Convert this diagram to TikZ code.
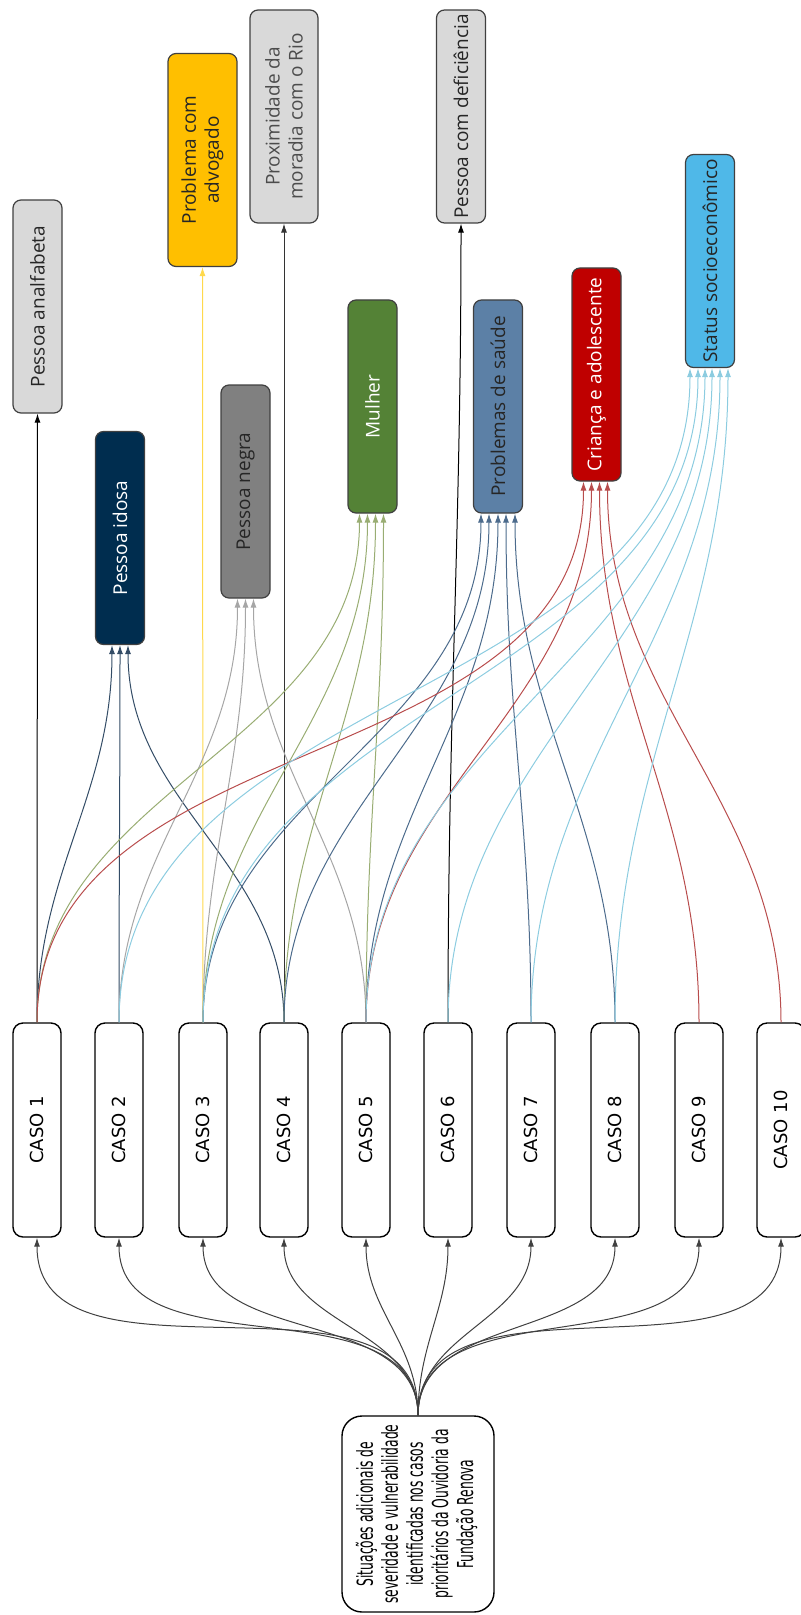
\documentclass[tikz,border=0pt]{standalone}
\usepackage{fontspec}
\setmainfont{Open Sans}
\newfontfamily\casofont{DejaVu Sans}
\usepackage{graphicx}
\usetikzlibrary{arrows.meta,calc}
\definecolor{BoxLine}{rgb}{0.25,0.25,0.25}
\definecolor{GrayClr}{rgb}{0.85,0.85,0.85}
\definecolor{IdosaClr}{rgb}{0,0.176,0.31}
\definecolor{AdvClr}{rgb}{1,0.75,0}
\definecolor{NegraClr}{rgb}{0.5,0.5,0.5}
\definecolor{MulherClr}{rgb}{0.33,0.51,0.21}
\definecolor{SaudeClr}{rgb}{0.36,0.5,0.65}
\definecolor{CriancaClr}{rgb}{0.75,0,0}
\definecolor{StatusClr}{rgb}{0.31,0.72,0.91}
\definecolor{IdosaLn}{rgb}{0.2,0.3,0.4}
\definecolor{AdvLn}{rgb}{1,0.85,0.3}
\definecolor{NegraLn}{rgb}{0.65,0.65,0.65}
\definecolor{MulherLn}{rgb}{0.6,0.68,0.45}
\definecolor{SaudeLn}{rgb}{0.3,0.42,0.55}
\definecolor{CriancaLn}{rgb}{0.72,0.3,0.3}
\definecolor{StatusLn}{rgb}{0.55,0.8,0.88}

\begin{document}
\begin{tikzpicture}[x=0.5pt,y=-0.5pt,
  cat/.style={draw=BoxLine,line width=0.6pt,rounded corners=4pt,rotate=90,
    minimum width=106.5pt,minimum height=24.5pt,align=center,inner sep=2pt,
    font=\fontsize{9.5}{11.5}\selectfont,text=black!85},
  caso/.style={draw=black,fill=white,line width=0.7pt,rounded corners=5pt,rotate=90,
    minimum width=107pt,minimum height=24pt,
    font=\casofont\fontsize{9}{11}\selectfont},
  lnk/.style={-{Latex[length=4.5pt,width=3pt]},line width=0.5pt}]
\useasboundingbox (0,0) rectangle (800,1615);

\node[caso,minimum width=98pt,minimum height=76pt,rounded corners=10pt,
  font=\casofont\fontsize{11}{12.5}\selectfont] (root) at (418,1514)
  {\scalebox{0.56}[1]{\begin{tabular}{@{}c@{}}Situações adicionais de\\
  severidade e vulnerabilidade\\identificadas nos casos\\
  prioritários da Ouvidoria da\\Fundação Renova\end{tabular}}};

\foreach \i/\x in {1/37,2/119,3/203,4/284,5/366,6/448,7/531,8/615,9/699,10/781}
  \node[caso] (c\i) at (\x,1130) {CASO \i};

\node[cat,fill=GrayClr] (ana) at (37.5,306.5) {Pessoa analfabeta};
\node[cat,fill=IdosaClr,text=white] (idosa) at (120,538) {Pessoa idosa};
\node[cat,fill=AdvClr,minimum height=34.5pt] (adv) at (202.5,160) {Problema com\\advogado};
\node[cat,fill=NegraClr] (negra) at (245.5,491.5) {Pessoa negra};
\node[cat,fill=GrayClr,minimum height=34pt,text=black!70] (rio) at (284,116.5) {Proximidade da\\moradia com o Rio};
\node[cat,fill=MulherClr,text=white] (mulher) at (372.5,406.5) {Mulher};
\node[cat,fill=GrayClr] (defic) at (461,116.5) {Pessoa com deficiência};
\node[cat,fill=SaudeClr] (saude) at (498,406.5) {Problemas de saúde};
\node[cat,fill=CriancaClr,text=white] (crianca) at (596.5,374.5) {Criança e adolescente};
\node[cat,fill=StatusClr] (status) at (710,261) {Status socioeconômico};

\foreach \i in {1,...,10}
  \draw[lnk,black!75] (root.east) to[out=90,in=-90] (c\i.west);

\draw[lnk,black] (c1.east) -- (ana.west);
\draw[lnk,AdvLn] (c3.east) -- (adv.west);
\draw[lnk,black!80] (c4.east) -- (rio.west);
\draw[lnk,black] (c6.east) to[out=90,in=-90] (defic.west);

\foreach \s/\d in {1/-8,2/0,4/8}
  \draw[lnk,IdosaLn] (c\s.east) to[out=90,in=-90] ($(idosa.west)+(\d,0)$);
\foreach \s/\d in {2/-8,3/0,5/8}
  \draw[lnk,NegraLn] (c\s.east) to[out=90,in=-90] ($(negra.west)+(\d,0)$);
\foreach \s/\d in {1/-13,3/-5,4/3,5/11}
  \draw[lnk,MulherLn] (c\s.east) to[out=90,in=-90] ($(mulher.west)+(\d,0)$);
\foreach \s/\d in {3/-17,4/-9,5/0,7/8,8/17}
  \draw[lnk,SaudeLn] (c\s.east) to[out=90,in=-90] ($(saude.west)+(\d,0)$);
\foreach \s/\d in {1/-13,5/-5,9/3,10/11}
  \draw[lnk,CriancaLn] (c\s.east) to[out=90,in=-90] ($(crianca.west)+(\d,0)$);
\foreach \s/\d in {2/-20,3/-12,5/-5,6/2,7/10,8/18}
  \draw[lnk,StatusLn] (c\s.east) to[out=90,in=-90] ($(status.west)+(\d,0)$);

\end{tikzpicture}
\end{document}
